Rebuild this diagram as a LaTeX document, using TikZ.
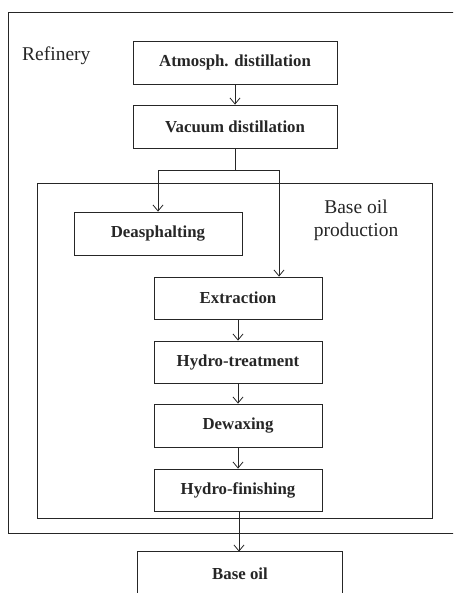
\documentclass[tikz,border=0pt]{standalone}
\usepackage{fontspec}
\setmainfont{Liberation Serif}
\usetikzlibrary{arrows.meta}
\tikzset{
  stepbox/.style={draw=black!85, line width=0.8pt, minimum height=43pt, inner sep=0pt,
    font=\fontsize{16.8}{18}\selectfont\bfseries, text=black!85},
  conn/.style={draw=black!85, line width=0.8pt},
  arr/.style={conn, -{Straight Barb[length=6pt,width=10pt,line width=0.8pt]}},
  lbl/.style={font=\fontsize{19.5}{23}\selectfont, text=black!85, inner sep=0pt},
}
\begin{document}
\begin{tikzpicture}[x=1pt,y=-1pt]
\useasboundingbox (0,0) rectangle (453,593);
\clip (0,0) rectangle (453,593);
\fill[white] (0,0) rectangle (453,593);
% refinery frame (open to the right)
\coordinate (r1) at (470,12);
\coordinate (r2) at (8,12);
\coordinate (r3) at (8,533);
\coordinate (r4) at (470,533);
\draw[conn] (r1) -- (r2) -- (r3) -- (r4);
\node[lbl, anchor=west] (refinery) at (22,56) {Refinery};
% base oil production frame
\node[draw=black!85, line width=0.8pt, minimum width=395pt, minimum height=335pt, inner sep=0pt] (bop) at (234.5,350.5) {};
\node[lbl, align=center] (boplbl) at (356,220) {Base oil\\production};
% steps
\node[stepbox, minimum width=204pt] (atm) at (235,62.5) {Atmosph. distillation};
\node[stepbox, minimum width=204pt] (vac) at (235,126.5) {Vacuum distillation};
\node[stepbox, minimum width=168pt] (deas) at (158,233.5) {Deasphalting};
\node[stepbox, minimum width=168pt, minimum height=42pt] (ext) at (238,298) {Extraction};
\node[stepbox, minimum width=168pt, minimum height=42pt] (hyt) at (238,362) {Hydro-treatment};
\node[stepbox, minimum width=168pt] (dew) at (238,425.5) {Dewaxing};
\node[stepbox, minimum width=168pt, minimum height=42pt] (hyf) at (238,490) {Hydro-finishing};
% base oil box (bottom cut off)
\node[stepbox, draw=none, minimum width=204pt] (bo) at (240,573.5) {Base oil};
\draw[conn] ([yshift=-40pt]bo.south west) -- (bo.north west) -- (bo.north east) -- ([yshift=-40pt]bo.south east);
% connectors
\draw[arr] (atm.south) -- (vac.north);
\coordinate (j) at (235,170);
\coordinate (jr) at (279,170);
\draw[conn] (vac.south) -- (j);
\draw[arr] (j) -| (deas.north);
\draw[arr] (j) -- (jr) -- (jr |- ext.north);
\draw[arr] (ext.south) -- (hyt.north);
\draw[arr] (hyt.south) -- (dew.north);
\draw[arr] (dew.south) -- (hyf.north);
\coordinate (hb) at (239,511);
\draw[arr] (hb) -- (hb |- bo.north);
\end{tikzpicture}
\end{document}
